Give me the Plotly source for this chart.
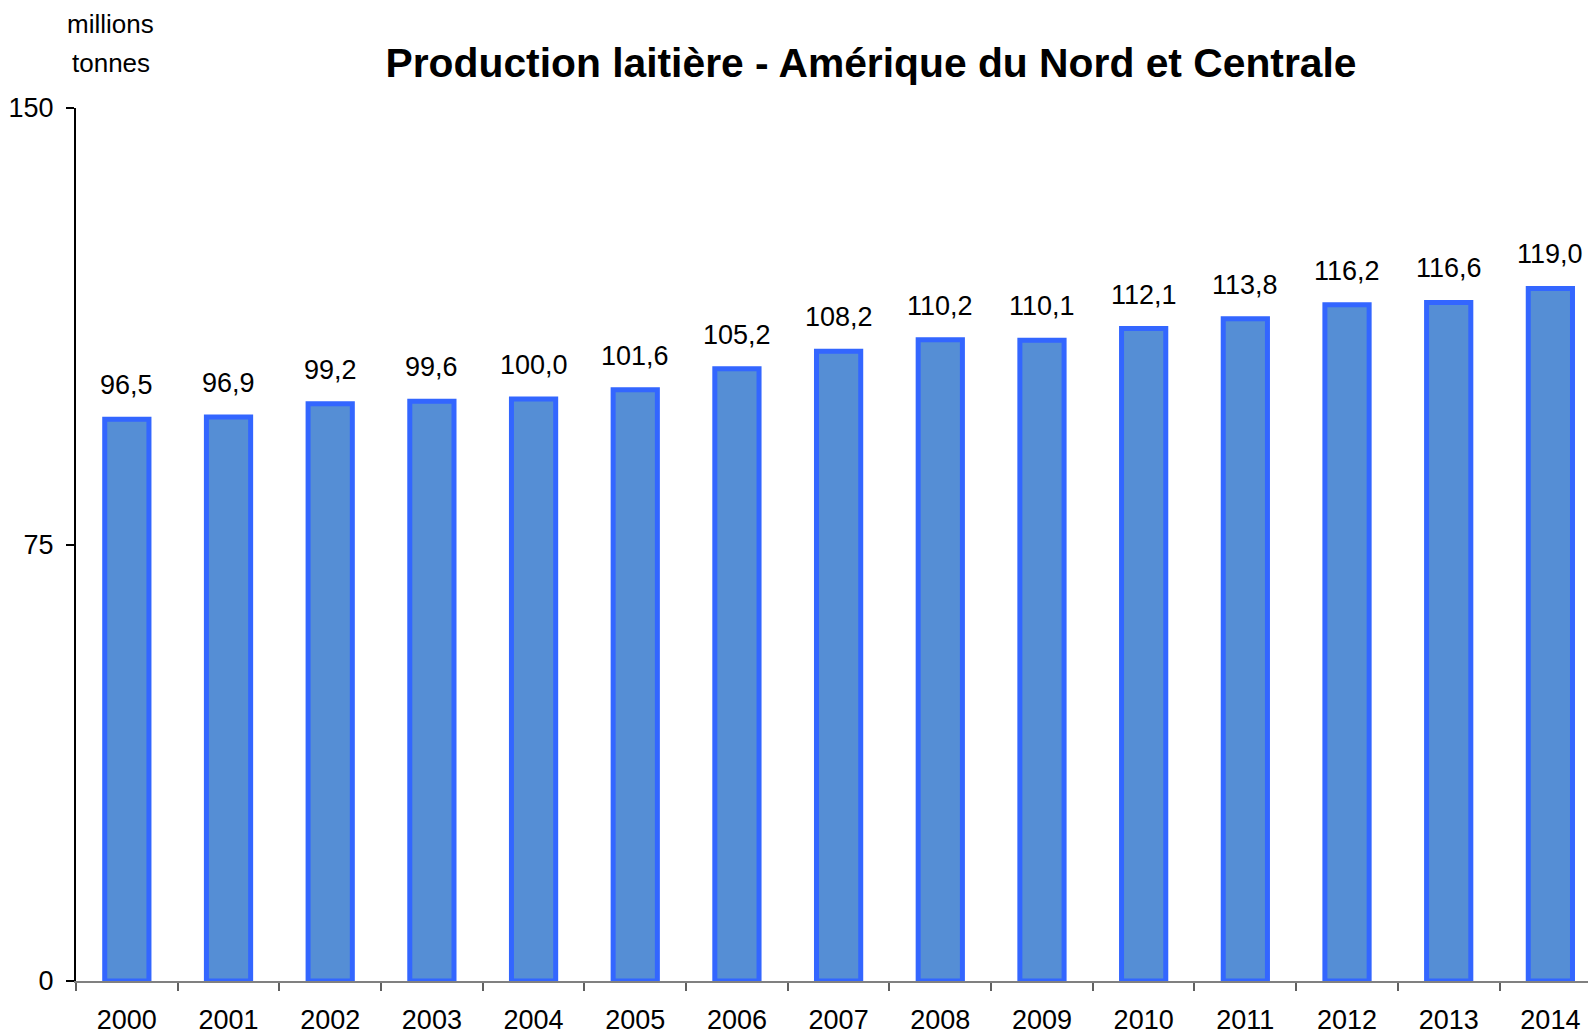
import plotly.graph_objects as go

years = [str(y) for y in range(2000, 2015)]
values = [96.5, 96.9, 99.2, 99.6, 100.0, 101.6, 105.2, 108.2, 110.2, 110.1, 112.1, 113.8, 116.2, 116.6, 119.0]
y_ticks = [0, 75, 150]
labels = [f"{v:.1f}".replace(".", ",") for v in values]

FONT = "Liberation Sans, Arial, sans-serif"

fig = go.Figure()
fig.add_trace(go.Bar(
    x=years, y=values,
    marker=dict(color="#558ED5", line=dict(color="#3366FF", width=5)),
    width=0.435,
))

annotations = [
    dict(x=i, y=v, xref="x", yref="y", text=t, showarrow=False,
         yanchor="middle", xanchor="center", yshift=34,
         font=dict(family=FONT, size=27, color="black"))
    for i, (v, t) in enumerate(zip(values, labels))
]
annotations += [
    dict(text="millions", xref="paper", yref="paper", x=0.0231, y=1.0962,
         xanchor="center", yanchor="middle", showarrow=False,
         font=dict(family=FONT, size=26, color="black")),
    dict(text="tonnes", xref="paper", yref="paper", x=0.0231, y=1.0515,
         xanchor="center", yanchor="middle", showarrow=False,
         font=dict(family=FONT, size=26, color="black")),
]

fig.update_layout(
    width=1588, height=1035,
    margin=dict(l=76, r=0, t=108, b=54),
    paper_bgcolor="white", plot_bgcolor="white",
    showlegend=False,
    title=dict(text="<b>Production laitière - Amérique du Nord et Centrale</b>",
               x=0.5485, xanchor="center", y=0.939, yanchor="middle",
               font=dict(family=FONT, size=40.8, color="black")),
    annotations=annotations,
)

fig.update_xaxes(
    type="category", range=[-0.5, 14.37], automargin=False,
    showline=True, linecolor="#808080", linewidth=2,
    ticks="outside", tickson="boundaries", ticklen=8, tickcolor="#606060", tickwidth=2,
    ticklabelstandoff=14,
    tickfont=dict(family=FONT, size=27, color="black"),
    showgrid=False,
)
fig.update_yaxes(
    range=[0, 150], tickvals=y_ticks, automargin=False,
    showline=True, linecolor="black", linewidth=2,
    ticks="outside", ticklen=8, tickcolor="black", tickwidth=2,
    ticklabelstandoff=7,
    tickfont=dict(family=FONT, size=27, color="black"),
    showgrid=False, zeroline=False,
)

fig.write_html("out.html", config={"displayModeBar": False},
               post_script="document.body.style.margin='0';document.body.style.overflow='hidden';")
